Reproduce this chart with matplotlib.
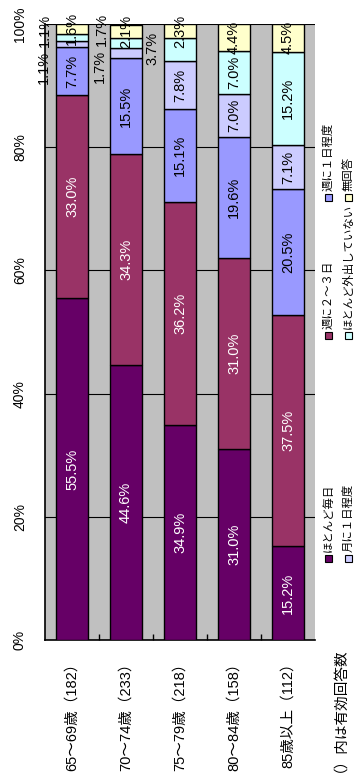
import matplotlib
matplotlib.use("Agg")
import matplotlib.pyplot as plt
from matplotlib.patches import Rectangle
import numpy as np

plt.rcParams['font.family'] = ['Liberation Sans', 'Noto Sans CJK JP']

categories = ['65～69歳（182）', '70～74歳（233）', '75～79歳（218）',
              '80～84歳（158）', '85歳以上（112）']
series_names = ['ほとんど毎日', '週に２～３日', '週に１日程度',
                '月に１日程度', 'ほとんど外出していない', '無回答']
mainichi = [55.5, 44.6, 34.9, 31.0, 15.2]
shu23 = [33.0, 34.3, 36.2, 31.0, 37.5]
shu1 = [7.7, 15.5, 15.1, 19.6, 20.5]
tsuki1 = [1.1, 1.7, 7.8, 7.0, 7.1]
gaishutsu_nashi = [1.1, 1.7, 3.7, 7.0, 15.2]
mukaito = [1.6, 2.1, 2.3, 4.4, 4.5]
yticks = [0, 20, 40, 60, 80, 100]
note = '（）内は有効回答数'

series = [mainichi, shu23, shu1, tsuki1, gaishutsu_nashi, mukaito]
colors = ['#660066', '#993366', '#9999FF', '#CCCCFF', '#CCFFFF', '#FFFFCC']
text_colors = ['white', 'white', 'black', 'black', 'black', 'black']

# labels of thin segments sit beside the bar, offsets in pixels (dx, dy up)
label_shift = {
    (0, 3): (-28, -23), (0, 4): (-27, 7),
    (1, 3): (-26, -13), (1, 4): (-24, 13),
    (2, 4): (-28, 1),
}

W, H = 356, 780
fig = plt.figure(figsize=(W / 100, H / 100), dpi=100)


def fx(px):
    return px / W


def fy(py):
    return 1 - py / H


ax = fig.add_axes([fx(45), fy(640), fx(315) - fx(45), fy(24) - fy(640)])
ax.set_facecolor('#C0C0C0')

x = np.arange(len(categories))
bottom = np.zeros(len(categories))
for s, vals in enumerate(series):
    vals = np.array(vals)
    ax.bar(x, vals, bottom=bottom, width=0.61, color=colors[s],
           edgecolor='black', linewidth=1.0, zorder=3)
    for i, v in enumerate(vals):
        cy = bottom[i] + v / 2
        dx, dy = label_shift.get((i, s), (0, 0))
        ax.annotate(f'{v:.1f}%', (x[i], cy), xytext=(dx * 0.72, dy * 0.72),
                    textcoords='offset points', rotation=90,
                    ha='center', va='center', fontsize=10.5,
                    color=text_colors[s] if (i, s) not in label_shift else 'black',
                    zorder=5, annotation_clip=False)
    bottom += vals

ax.set_xlim(-0.5, len(categories) - 0.5)
ax.set_ylim(0, 100)
ax.set_yticks(yticks)
ax.set_yticklabels([f'{t}%' for t in yticks], rotation=90, va='center',
                   fontsize=10)
ax.yaxis.grid(True, color='black', linewidth=0.8)
ax.set_axisbelow(True)
ax.tick_params(axis='y', direction='in', length=0, pad=13)

ax.set_xticks(x)
ax.set_xticklabels(categories, rotation=90, ha='center', va='top',
                   fontsize=10.5)
ax.set_xticks(x[:-1] + 0.5, minor=True)
ax.tick_params(axis='x', which='major', length=0, pad=11)
ax.tick_params(axis='x', which='minor', direction='in', length=4,
               width=1, color='black')

for side in ['top', 'right']:
    ax.spines[side].set_visible(False)
for side in ['left', 'bottom']:
    ax.spines[side].set_color('black')
    ax.spines[side].set_linewidth(1.2)

# legend, two rows of three, drawn sideways
leg_rows = [328, 348]
leg_cols = [558, 335, 197]
for k, name in enumerate(series_names):
    r, c = divmod(k, 3)
    px, py = leg_rows[r], leg_cols[c]
    fig.add_artist(Rectangle((fx(px - 3.5), fy(py + 3.5)), fx(7), 7 / H,
                             transform=fig.transFigure, facecolor=colors[k],
                             edgecolor='black', linewidth=0.8))
    fig.text(fx(px), fy(py - 6), name, rotation=90, rotation_mode='anchor',
             ha='left', va='center', fontsize=8.2)

fig.text(fx(332), fy(772), note, rotation=90, rotation_mode='anchor',
         ha='left', va='center', fontsize=10.5)

fig.savefig('out.png', dpi=100)
